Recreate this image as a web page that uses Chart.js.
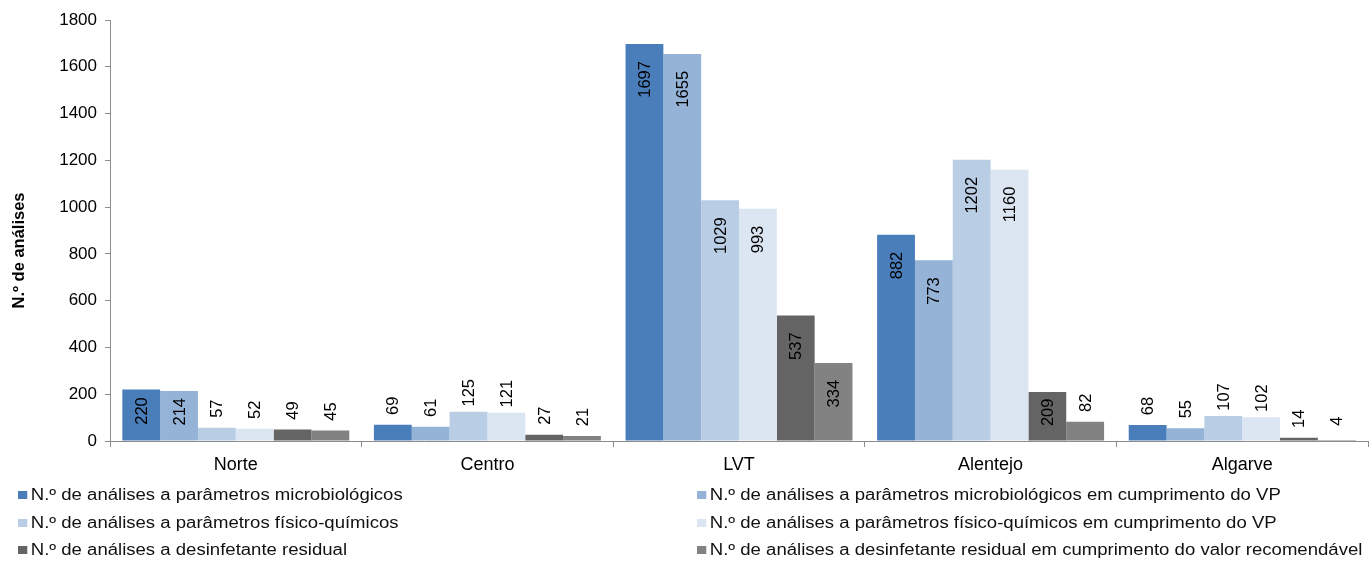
<!DOCTYPE html>
<html lang="pt">
<head>
<meta charset="utf-8">
<title>N.º de análises por região</title>
<script src="https://cdn.jsdelivr.net/npm/chart.js@4.4.1/dist/chart.umd.min.js"></script>
<style>
  html, body { margin: 0; padding: 0; background: #fff; }
  #wrap { position: relative; width: 1369px; height: 561px; overflow: hidden; }
  #chart { position: absolute; left: 0; top: 0; }
  #legend { position: absolute; left: 0; top: 0; width: 1369px; height: 561px; pointer-events: none;
            font-family: "Liberation Sans", Arial, sans-serif; font-size: 16px; color: #111; }
  .item { position: absolute; display: flex; align-items: center; white-space: nowrap;
          transform: scaleX(1.16); transform-origin: left center; }
  .box { width: 8px; height: 8px; margin-right: 3px; }
</style>
</head>
<body>
<div id="wrap">
  <canvas id="chart" width="1369" height="561"></canvas>
  <div id="legend"></div>
</div>
<script>
// Regions on the category axis
const regions = ['Norte', 'Centro', 'LVT', 'Alentejo', 'Algarve'];

// Series names
const seriesNames = [
  'N.º de análises a parâmetros microbiológicos',
  'N.º de análises a parâmetros microbiológicos em cumprimento do VP',
  'N.º de análises a parâmetros físico-químicos',
  'N.º de análises a parâmetros físico-químicos em cumprimento do VP',
  'N.º de análises a desinfetante residual',
  'N.º de análises a desinfetante residual em cumprimento do valor recomendável'
];

// Values per series, in region order
const microbio        = [220, 69, 1697, 882, 68];
const microbioVP      = [214, 61, 1655, 773, 55];
const fisicoQuimico   = [57, 125, 1029, 1202, 107];
const fisicoQuimicoVP = [52, 121, 993, 1160, 102];
const desinfetante    = [49, 27, 537, 209, 14];
const desinfetanteVR  = [45, 21, 334, 82, 4];

// Value axis ticks
const yTicks = [0, 200, 400, 600, 800, 1000, 1200, 1400, 1600, 1800];

const yTitle = 'N.º de análises';

const seriesValues = [microbio, microbioVP, fisicoQuimico, fisicoQuimicoVP, desinfetante, desinfetanteVR];
const seriesColors = ['#4A7EBB', '#95B3D7', '#B9CDE5', '#DCE6F2', '#646464', '#828282'];

const FONT = '"Liberation Sans", Arial, sans-serif';
const AXIS_GREY = '#8C8C8C';

// Rotated value labels: inside the top of tall bars, above short ones
const barLabels = {
  id: 'barLabels',
  afterDatasetsDraw(chart) {
    const ctx = chart.ctx;
    ctx.save();
    ctx.font = '16.5px ' + FONT;
    ctx.fillStyle = '#000';
    ctx.textAlign = 'center';
    ctx.textBaseline = 'middle';
    chart.data.datasets.forEach((ds, di) => {
      const meta = chart.getDatasetMeta(di);
      meta.data.forEach((bar, i) => {
        const text = String(ds.data[i]);
        const len = ctx.measureText(text).width;
        const top = bar.y;
        const h = bar.base - bar.y;
        let cy;
        if (h >= len + 34) cy = top + 17 + len / 2;
        else if (h >= len + 12) cy = top + h / 2 - 4;
        else cy = top - 19;
        ctx.save();
        ctx.translate(bar.x, cy);
        ctx.rotate(-Math.PI / 2);
        ctx.fillText(text, 0, 1);
        ctx.restore();
      });
    });
    ctx.restore();
  }
};

// Vertical value-axis title, set a little below the plot's middle
const axisTitle = {
  id: 'axisTitle',
  afterDraw(chart) {
    const ctx = chart.ctx;
    const area = chart.chartArea;
    ctx.save();
    ctx.font = 'bold 16.5px ' + FONT;
    ctx.fillStyle = '#000';
    ctx.textAlign = 'center';
    ctx.textBaseline = 'middle';
    ctx.translate(19, (area.top + area.bottom) / 2 + 20);
    ctx.rotate(-Math.PI / 2);
    ctx.fillText(yTitle, 0, 0);
    ctx.restore();
  }
};

const chart = new Chart(document.getElementById('chart'), {
  type: 'bar',
  data: {
    labels: regions,
    datasets: seriesNames.map((name, k) => ({
      label: name,
      data: seriesValues[k],
      backgroundColor: seriesColors[k],
      borderWidth: 0,
      categoryPercentage: 0.902,
      barPercentage: 1.0
    }))
  },
  options: {
    responsive: false,
    animation: false,
    devicePixelRatio: 1,
    layout: { padding: { left: 0, right: 1, top: 20, bottom: 80 } },
    plugins: {
      legend: { display: false },
      tooltip: { enabled: false }
    },
    scales: {
      x: {
        grid: {
          display: true,
          offset: true,
          drawOnChartArea: false,
          drawTicks: true,
          tickLength: 6,
          color: AXIS_GREY
        },
        border: { display: true, color: AXIS_GREY, width: 1 },
        ticks: { color: '#000', font: { family: FONT, size: 18 }, padding: 7 },
        afterFit(scale) { scale.height = 40; }
      },
      y: {
        min: 0,
        max: 1800,
        afterBuildTicks(scale) { scale.ticks = yTicks.map(v => ({ value: v })); },
        grid: {
          display: true,
          drawOnChartArea: false,
          drawTicks: true,
          tickLength: 5,
          color: AXIS_GREY
        },
        border: { display: true, color: AXIS_GREY, width: 1 },
        ticks: {
          color: '#000',
          font: { family: FONT, size: 17 },
          padding: 8,
          callback: v => String(v)
        },
        afterFit(scale) { scale.width = 110; }
      }
    }
  },
  plugins: [barLabels, axisTitle]
});

// Two-column legend built from the chart's own datasets
const legendEl = document.getElementById('legend');
const colX = [18, 697];
const rowY = [495, 523, 550];
chart.data.datasets.forEach((ds, k) => {
  const item = document.createElement('div');
  item.className = 'item';
  item.style.left = colX[k % 2] + 'px';
  item.style.top = (rowY[Math.floor(k / 2)] - 10) + 'px';
  item.style.height = '20px';
  const box = document.createElement('span');
  box.className = 'box';
  box.style.background = ds.backgroundColor;
  const label = document.createElement('span');
  label.textContent = ds.label;
  item.appendChild(box);
  item.appendChild(label);
  legendEl.appendChild(item);
});
</script>
</body>
</html>
